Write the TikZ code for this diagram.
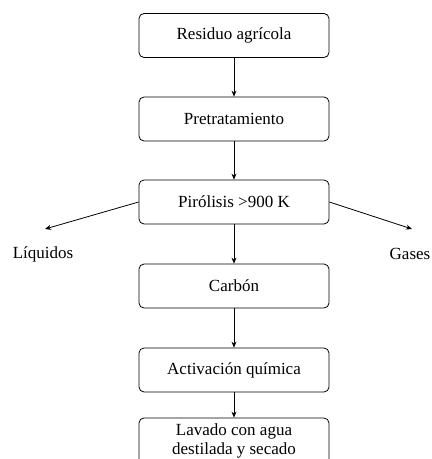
\documentclass[tikz,border=0pt]{standalone}
\usepackage{fontspec}
\setmainfont{Liberation Serif}
\usetikzlibrary{arrows.meta}
\tikzset{>={Stealth[length=6pt,width=5pt]}}
\tikzset{paso/.style={draw, rounded corners=5pt, minimum width=190pt, minimum height=44pt, align=center, font=\fontsize{17}{19}\selectfont},
etiq/.style={font=\fontsize{17}{19}\selectfont}}

\begin{document}
\begin{tikzpicture}[x=1pt,y=1pt,line width=0.8pt]
\useasboundingbox (0,0) rectangle (432,-459);
\node[paso] (res) at (234,-35.5) {Residuo agrícola};
\node[paso] (pre) at (234,-119) {Pretratamiento};
\node[paso] (pir) at (234,-202) {Pirólisis >900 K};
\node[paso] (car) at (234,-286) {Carbón};
\node[paso] (act) at (234,-370) {Activación química};
\node[paso, minimum height=46pt] (lav) at (234,-441) {Lavado con agua\\destilada y secado};
\node[etiq] (liq) at (43,-254) {Líquidos};
\node[etiq] (gas) at (410,-254) {Gases};
\coordinate (liqfin) at (45,-229);
\coordinate (gasfin) at (412,-229);
\draw[->] (res) -- (pre);
\draw[->] (pre) -- (pir);
\draw[->] (pir) -- (car);
\draw[->] (car) -- (act);
\draw[->] (act) -- (lav);
\draw[->] (pir.west) -- (liqfin);
\draw[->] (pir.east) -- (gasfin);
\end{tikzpicture}
\end{document}
